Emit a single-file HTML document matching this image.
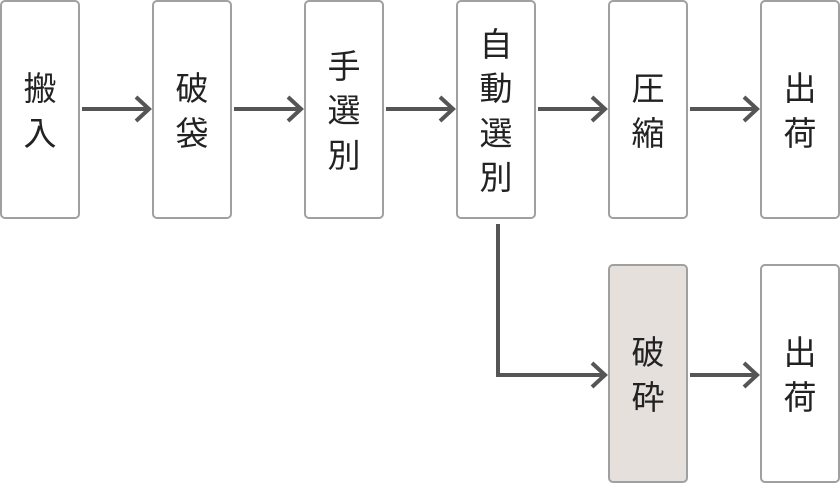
<!DOCTYPE html>
<html><head><meta charset="utf-8"><style>
html,body{margin:0;padding:0;background:#fff;width:840px;height:484px;overflow:hidden}
</style></head><body>
<svg width="840" height="484" xmlns="http://www.w3.org/2000/svg" font-family="'Liberation Sans','Noto Sans CJK JP',sans-serif" font-size="33" fill="#222">
<g stroke="#a0a0a0" stroke-width="2" fill="#fff">
<rect x="1" y="1" width="78" height="217" rx="4"/>
<rect x="153" y="1" width="78" height="217" rx="4"/>
<rect x="305" y="1" width="78" height="217" rx="4"/>
<rect x="457" y="1" width="78" height="217" rx="4"/>
<rect x="609" y="1" width="78" height="217" rx="4"/>
<rect x="761" y="1" width="78" height="217" rx="4"/>
<rect x="609" y="265" width="78" height="217" rx="4" fill="#e6e0dd"/>
<rect x="761" y="265" width="78" height="217" rx="4"/>
</g>
<g stroke="#555" stroke-width="4" fill="none" stroke-linejoin="miter">
<path d="M82 109H149M136 97L149 109L136 121"/>
<path d="M234 109H301M288 97L301 109L288 121"/>
<path d="M386 109H453M440 97L453 109L440 121"/>
<path d="M538 109H605M592 97L605 109L592 121"/>
<path d="M690 109H757M744 97L757 109L744 121"/>
<path d="M498 224V375H605M592 363L605 375L592 387"/>
<path d="M690 375H757M744 363L757 375L744 387"/>
</g>
<g text-anchor="middle">
<text x="40" y="100">搬</text><text x="40" y="145">入</text>
<text x="192" y="100">破</text><text x="192" y="145">袋</text>
<text x="344" y="78">手</text><text x="344" y="122">選</text><text x="344" y="167">別</text>
<text x="496" y="56">自</text><text x="496" y="100">動</text><text x="496" y="145">選</text><text x="496" y="189">別</text>
<text x="648" y="100">圧</text><text x="648" y="145">縮</text>
<text x="800" y="100">出</text><text x="800" y="145">荷</text>
<text x="648" y="364">破</text><text x="648" y="409">砕</text>
<text x="800" y="364">出</text><text x="800" y="409">荷</text>
</g>
</svg>
</body></html>
